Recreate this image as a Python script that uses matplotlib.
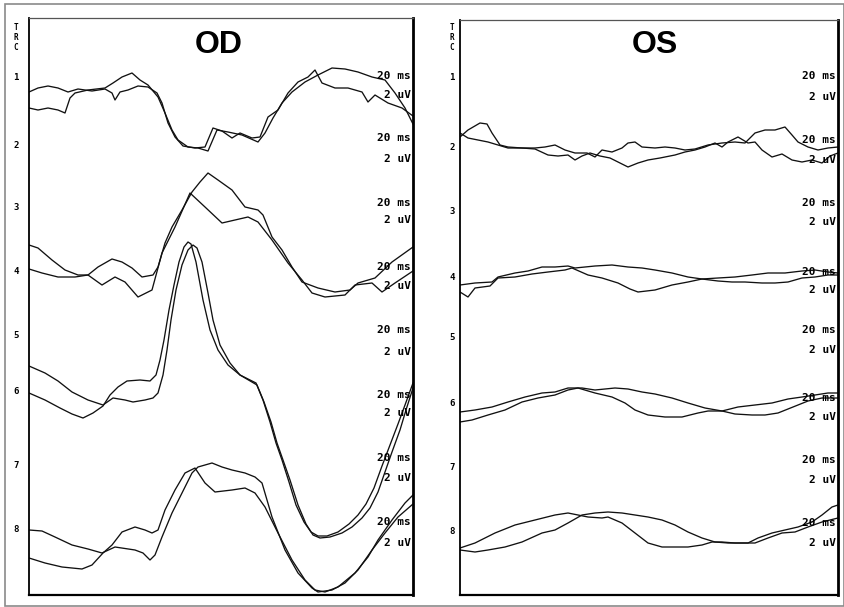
import matplotlib.pyplot as plt
from matplotlib.patches import Rectangle

W, H = 845, 607

# Traces, as (x, y) in image pixels (y grows downward)
# OD panel
od_1a = [(29, 92), (38, 88), (48, 86), (58, 88), (68, 92), (78, 89), (92, 91), (105, 89), (112, 93),
         (115, 100), (120, 92), (128, 90), (138, 86), (148, 87), (157, 93), (162, 103), (168, 123),
         (175, 137), (183, 146), (195, 148), (205, 147), (213, 128), (222, 131), (232, 138), (240, 133),
         (252, 138), (260, 137), (268, 117), (278, 110), (288, 93), (298, 82), (308, 77), (315, 70),
         (322, 83), (335, 88), (348, 88), (362, 92), (368, 102), (375, 95), (388, 103), (402, 108), (413, 116)]
od_1b = [(29, 108), (38, 110), (48, 108), (58, 110), (65, 113), (70, 98), (75, 93), (88, 90), (105, 88),
         (113, 83), (122, 77), (132, 73), (140, 80), (148, 85), (158, 97), (165, 113), (172, 130),
         (178, 140), (188, 147), (198, 148), (208, 151), (217, 130), (228, 132), (242, 135), (258, 142),
         (265, 133), (273, 118), (282, 103), (292, 92), (305, 82), (318, 75), (332, 68), (345, 69),
         (358, 72), (372, 77), (385, 80), (395, 93), (405, 108), (413, 124)]
od_2a = [(29, 245), (38, 248), (52, 260), (65, 270), (78, 275), (88, 275), (98, 267), (112, 259),
         (122, 262), (132, 268), (142, 277), (153, 275), (158, 267), (165, 243), (172, 227), (182, 210),
         (192, 192), (200, 182), (208, 173), (218, 180), (232, 190), (245, 207), (258, 210), (263, 215),
         (272, 237), (282, 250), (292, 267), (302, 282), (318, 288), (335, 292), (350, 290), (358, 283),
         (375, 278), (392, 262), (413, 247)]
od_2b = [(29, 269), (42, 273), (58, 277), (75, 277), (88, 275), (102, 285), (115, 277), (125, 282),
         (138, 297), (152, 290), (162, 253), (175, 227), (190, 193), (205, 207), (222, 223), (235, 220),
         (248, 217), (258, 222), (272, 240), (288, 263), (302, 280), (312, 293), (325, 297), (345, 295),
         (355, 285), (372, 283), (382, 292), (395, 283), (413, 271)]
od_3a = [(29, 366), (45, 373), (58, 381), (72, 392), (88, 400), (103, 405), (113, 398), (125, 400),
         (133, 402), (145, 400), (153, 398), (158, 393), (163, 375), (167, 350), (171, 320), (176, 290),
         (182, 265), (188, 250), (193, 245), (197, 248), (202, 262), (208, 293), (213, 320), (220, 345),
         (230, 363), (240, 375), (257, 385), (264, 402), (271, 422), (277, 443), (283, 460), (290, 480),
         (298, 505), (306, 524), (313, 535), (320, 538), (330, 537), (342, 533), (352, 527), (362, 518),
         (370, 508), (378, 492), (385, 472), (392, 452), (400, 430), (406, 410), (413, 388)]
od_3b = [(29, 393), (45, 400), (60, 408), (72, 414), (83, 418), (93, 413), (103, 406), (110, 395),
         (118, 387), (127, 381), (140, 380), (150, 381), (156, 375), (160, 360), (164, 340), (169, 310),
         (174, 285), (179, 262), (184, 247), (188, 242), (191, 244), (196, 262), (203, 300), (210, 330),
         (218, 350), (228, 365), (240, 375), (256, 383), (263, 400), (270, 422), (276, 443), (282, 460),
         (289, 482), (296, 505), (304, 522), (311, 532), (318, 536), (327, 536), (338, 532), (349, 524),
         (358, 515), (366, 504), (374, 488), (382, 466), (390, 445), (398, 424), (405, 405), (413, 383)]
od_4a = [(29, 530), (42, 531), (55, 537), (72, 545), (88, 549), (102, 553), (115, 547), (135, 550),
         (143, 553), (150, 560), (155, 555), (162, 537), (172, 513), (182, 493), (192, 473), (198, 467),
         (212, 463), (222, 467), (232, 470), (245, 473), (255, 477), (262, 483), (272, 517), (285, 550),
         (298, 573), (312, 588), (318, 592), (332, 590), (345, 583), (358, 570), (372, 550), (385, 533),
         (398, 517), (413, 504)]
od_4b = [(29, 558), (45, 563), (62, 567), (82, 569), (92, 565), (103, 553), (112, 545), (122, 532),
         (135, 527), (145, 530), (152, 533), (158, 530), (165, 510), (175, 490), (185, 473), (195, 468),
         (205, 483), (215, 492), (232, 490), (245, 488), (255, 493), (265, 507), (278, 533), (292, 560),
         (305, 580), (315, 590), (325, 592), (338, 587), (355, 573), (368, 557), (378, 540), (392, 520),
         (405, 503), (413, 495)]

# OS panel
os_1a = [(460, 137), (468, 130), (480, 123), (487, 124), (492, 133), (500, 145), (508, 147), (522, 148),
         (535, 148), (545, 147), (555, 145), (565, 150), (575, 153), (587, 153), (595, 157), (602, 150),
         (612, 152), (622, 148), (628, 143), (635, 142), (642, 147), (655, 148), (665, 147), (675, 148),
         (685, 150), (695, 149), (708, 145), (722, 143), (735, 142), (745, 143), (755, 133), (765, 130),
         (775, 130), (785, 127), (792, 135), (798, 142), (808, 147), (818, 150), (828, 148), (838, 147)]
os_1b = [(460, 133), (468, 138), (478, 140), (488, 142), (498, 145), (508, 148), (522, 148), (535, 149),
         (548, 155), (558, 156), (568, 155), (575, 160), (582, 156), (590, 153), (600, 156), (610, 158),
         (620, 163), (628, 167), (638, 163), (648, 160), (660, 158), (675, 155), (685, 152), (695, 150),
         (705, 147), (715, 143), (722, 147), (728, 142), (738, 137), (748, 143), (755, 142), (762, 150),
         (772, 157), (782, 154), (792, 160), (802, 162), (812, 160), (822, 163), (830, 156), (838, 153)]
os_2a = [(460, 285), (475, 283), (492, 282), (498, 277), (515, 273), (528, 271), (542, 267), (555, 267),
         (568, 266), (575, 268), (595, 266), (612, 265), (628, 267), (642, 268), (655, 270), (672, 273),
         (688, 277), (702, 279), (718, 281), (732, 282), (745, 282), (762, 283), (775, 283), (788, 282),
         (802, 278), (815, 277), (828, 275), (838, 275)]
os_2b = [(460, 292), (468, 297), (475, 288), (490, 286), (498, 278), (515, 277), (532, 274), (548, 272),
         (565, 270), (572, 268), (588, 275), (602, 278), (618, 283), (630, 289), (638, 292), (655, 290),
         (672, 285), (688, 282), (702, 279), (718, 278), (735, 277), (752, 275), (768, 273), (785, 273),
         (802, 271), (815, 270), (828, 272), (838, 273)]
os_3a = [(460, 412), (475, 410), (492, 407), (508, 402), (525, 397), (542, 393), (555, 392), (568, 388),
         (582, 388), (595, 390), (615, 388), (628, 389), (642, 392), (655, 394), (672, 398), (688, 403),
         (705, 408), (722, 411), (738, 407), (755, 405), (772, 403), (788, 399), (802, 397), (815, 395),
         (828, 393), (838, 393)]
os_3b = [(460, 422), (472, 420), (488, 415), (505, 410), (522, 402), (538, 398), (555, 395), (568, 390),
         (578, 388), (595, 393), (612, 397), (625, 403), (635, 410), (648, 415), (665, 417), (682, 417),
         (698, 413), (708, 411), (722, 411), (735, 414), (752, 415), (765, 415), (778, 413), (788, 409),
         (798, 405), (808, 401), (822, 398), (838, 398)]
os_4a = [(460, 548), (475, 543), (495, 533), (515, 525), (535, 520), (555, 515), (568, 513), (578, 515),
         (588, 517), (602, 518), (608, 517), (622, 523), (635, 533), (648, 543), (662, 547), (675, 547),
         (688, 547), (702, 545), (712, 542), (722, 542), (735, 543), (748, 543), (758, 538), (772, 533),
         (785, 530), (798, 527), (812, 522), (822, 515), (832, 507), (838, 505)]
os_4b = [(460, 550), (475, 552), (488, 550), (505, 547), (522, 542), (542, 533), (555, 530), (568, 523),
         (582, 515), (595, 513), (608, 512), (622, 513), (635, 515), (648, 517), (662, 520), (675, 525),
         (688, 532), (702, 538), (715, 542), (728, 543), (742, 543), (755, 543), (768, 538), (782, 533),
         (795, 532), (808, 527), (822, 522), (838, 518)]

# Row labels and scale labels
row_labels = ['1', '2', '3', '4', '5', '6', '7', '8']
od_row_y = [77, 145, 207, 272, 336, 392, 465, 529]
os_row_y = [77, 147, 212, 277, 337, 403, 467, 532]
od_ms_y = [76, 138, 203, 267, 330, 395, 458, 522]
od_uv_y = [95, 159, 220, 286, 352, 413, 478, 543]
os_ms_y = [76, 140, 203, 272, 330, 398, 460, 523]
os_uv_y = [97, 160, 222, 290, 350, 417, 480, 543]

fig = plt.figure(figsize=(W / 100, H / 100), dpi=100)
fig.patch.set_facecolor('white')
fig.patches.append(Rectangle((5 / W, 1 / H), 839 / W, 602 / H, transform=fig.transFigure,
                             fill=False, ec='#8a8a8a', lw=1.2))


def panel(box, title, title_x, traces, row_y, ms_y, uv_y, label_x):
    x0, y0, x1, y1 = box
    ax = fig.add_axes([x0 / W, 1 - y1 / H, (x1 - x0) / W, (y1 - y0) / H])
    ax.set_xlim(x0, x1)
    ax.set_ylim(y1, y0)
    ax.set_xticks([])
    ax.set_yticks([])
    ax.spines['left'].set_linewidth(1.3)
    ax.spines['right'].set_linewidth(2.0)
    ax.spines['bottom'].set_linewidth(1.6)
    ax.spines['top'].set_linewidth(0.9)
    ax.spines['top'].set_color('#555555')

    for tr in traces:
        xs = [p[0] for p in tr]
        ys = [p[1] for p in tr]
        ax.plot(xs, ys, color='#111111', lw=0.95, solid_joinstyle='round')

    ax.text(title_x, 45, title, ha='center', va='center', fontsize=23, fontweight='bold',
            family='Liberation Sans')

    # T R C header and trace numbers left of the box
    for ch, yy in zip(['T', 'R', 'C'], [28, 38, 48]):
        ax.text(label_x, yy, ch, ha='center', va='center', fontsize=5.5, fontweight='bold',
                family='DejaVu Sans Mono', clip_on=False)
    for lab, yy in zip(row_labels, row_y):
        ax.text(label_x, yy, lab, ha='center', va='center', fontsize=6.5, fontweight='bold',
                family='DejaVu Sans Mono', clip_on=False)

    # calibration labels on the right
    for yy in ms_y:
        ax.text(x1 - 2, yy, '20 ms', ha='right', va='center', fontsize=8, fontweight='bold',
                family='DejaVu Sans Mono')
    for yy in uv_y:
        ax.text(x1 - 2, yy, '2 uV', ha='right', va='center', fontsize=8, fontweight='bold',
                family='DejaVu Sans Mono')
    return ax


panel((29, 18, 413, 595), 'OD', 219, [od_1a, od_1b, od_2a, od_2b, od_3a, od_3b, od_4a, od_4b],
      od_row_y, od_ms_y, od_uv_y, 16)
panel((460, 20, 838, 595), 'OS', 655, [os_1a, os_1b, os_2a, os_2b, os_3a, os_3b, os_4a, os_4b],
      os_row_y, os_ms_y, os_uv_y, 452)

fig.savefig('out.png', dpi=100)
